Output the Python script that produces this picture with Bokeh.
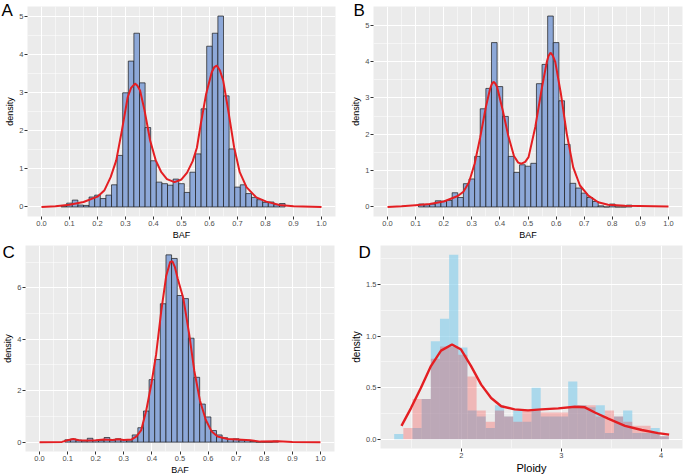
from bokeh.plotting import figure
from bokeh.models import FixedTicker, Title, Range1d, CustomJSTickFormatter
from bokeh.layouts import column, row
from bokeh.embed import file_html
from bokeh.resources import INLINE

FONT = "Liberation Sans"

# ---------------- Panel A data ----------------
a_centers = [0.08, 0.10, 0.12, 0.14, 0.16, 0.18, 0.20, 0.22, 0.24, 0.26,
             0.28, 0.30, 0.32, 0.34, 0.36, 0.38, 0.40, 0.42, 0.44, 0.46,
             0.48, 0.50, 0.52, 0.54, 0.56, 0.58, 0.60, 0.62, 0.64, 0.66,
             0.68, 0.70, 0.72, 0.74, 0.76, 0.78, 0.80, 0.82, 0.84, 0.86]
a_density = [0.02, 0.10, 0.18, 0.05, 0.04, 0.26, 0.31, 0.22, 0.31, 0.58,
             1.35, 2.99, 3.82, 4.55, 3.25, 2.08, 1.21, 0.65, 0.61, 0.57,
             0.73, 0.61, 0.38, 0.91, 1.39, 2.57, 4.21, 4.55, 5.00, 2.91,
             1.52, 0.52, 0.58, 0.35, 0.25, 0.19, 0.12, 0.13, 0.06, 0.09]
a_curve_x = [0.00, 0.05, 0.10, 0.15, 0.20, 0.225, 0.247, 0.267, 0.287, 0.308,
             0.320, 0.334, 0.342, 0.352, 0.368, 0.388, 0.408, 0.428, 0.448, 0.475,
             0.500, 0.520, 0.540, 0.555, 0.569, 0.588, 0.608, 0.617, 0.626, 0.637,
             0.649, 0.669, 0.688, 0.708, 0.732, 0.767, 0.803, 0.85, 0.90, 1.00]
a_curve_y = [0.00, 0.02, 0.06, 0.13, 0.27, 0.44, 0.78, 1.22, 2.00, 2.88,
             3.12, 3.23, 3.18, 3.05, 2.53, 1.74, 1.22, 0.91, 0.73, 0.65,
             0.72, 0.90, 1.20, 1.55, 2.18, 2.96, 3.53, 3.66, 3.70, 3.58,
             3.31, 2.44, 1.56, 0.91, 0.52, 0.25, 0.14, 0.05, 0.02, 0.00]

# ---------------- Panel B data ----------------
b_centers = [0.12, 0.14, 0.16, 0.18, 0.20, 0.22, 0.24, 0.26, 0.28, 0.30,
             0.32, 0.34, 0.36, 0.38, 0.40, 0.42, 0.44, 0.46, 0.48, 0.50,
             0.52, 0.54, 0.56, 0.58, 0.60, 0.62, 0.64, 0.66, 0.68, 0.70,
             0.72, 0.74, 0.76, 0.78, 0.80, 0.82, 0.84, 0.86]
b_density = [0.08, 0.06, 0.08, 0.17, 0.16, 0.18, 0.39, 0.26, 0.64, 0.77,
             1.39, 2.70, 3.26, 4.52, 3.31, 2.49, 1.39, 0.95, 1.16, 1.12,
             1.20, 3.39, 3.92, 5.25, 4.52, 2.92, 1.72, 0.65, 0.52, 0.38,
             0.26, 0.15, 0.03, 0.00, 0.08, 0.00, 0.00, 0.05]
b_curve_x = [0.00, 0.05, 0.10, 0.15, 0.20, 0.25, 0.27, 0.29, 0.31, 0.33,
             0.35, 0.365, 0.371, 0.377, 0.383, 0.39, 0.41, 0.43, 0.45, 0.465,
             0.477, 0.49, 0.502, 0.526, 0.55, 0.567, 0.573, 0.580, 0.588, 0.597,
             0.617, 0.638, 0.661, 0.685, 0.715, 0.75, 0.785, 0.845, 1.00]
b_curve_y = [0.00, 0.02, 0.05, 0.08, 0.15, 0.30, 0.42, 0.68, 1.19, 1.92,
             2.75, 3.25, 3.38, 3.44, 3.40, 3.30, 2.66, 1.95, 1.40, 1.22,
             1.19, 1.24, 1.37, 2.20, 3.30, 3.99, 4.15, 4.24, 4.17, 3.99,
             3.12, 2.01, 1.09, 0.59, 0.31, 0.13, 0.06, 0.03, 0.01]

# ---------------- Panel C data ----------------
c_centers = [0.10, 0.12, 0.14, 0.16, 0.18, 0.20, 0.22, 0.24, 0.26, 0.28,
             0.30, 0.32, 0.34, 0.36, 0.38, 0.40, 0.42, 0.44, 0.46, 0.48,
             0.50, 0.52, 0.54, 0.56, 0.58, 0.60, 0.62, 0.64, 0.66, 0.68,
             0.70, 0.72, 0.74, 0.76, 0.78, 0.80, 0.82, 0.84]
c_density = [0.09, 0.12, 0.08, 0.05, 0.15, 0.06, 0.06, 0.18, 0.08, 0.13,
             0.10, 0.05, 0.28, 0.56, 1.21, 2.43, 3.21, 5.38, 7.28, 7.14,
             5.70, 5.58, 4.04, 2.52, 1.48, 0.98, 0.45, 0.28, 0.17, 0.11,
             0.13, 0.08, 0.07, 0.03, 0.00, 0.00, 0.00, 0.04]
c_curve_x = [0.00, 0.08, 0.10, 0.12, 0.14, 0.17, 0.20, 0.23, 0.26, 0.28,
             0.30, 0.327, 0.345, 0.362, 0.38, 0.398, 0.415, 0.433, 0.451, 0.465,
             0.473, 0.482, 0.492, 0.512, 0.533, 0.551, 0.571, 0.592, 0.613, 0.634,
             0.67, 0.72, 0.75, 0.786, 0.85, 0.90, 1.00]
c_curve_y = [0.00, 0.01, 0.07, 0.12, 0.07, 0.06, 0.07, 0.10, 0.08, 0.11,
             0.08, 0.10, 0.22, 0.47, 1.24, 2.26, 3.41, 5.07, 6.47, 7.00,
             7.03, 6.80, 6.35, 5.58, 4.18, 2.77, 1.62, 0.86, 0.41, 0.22,
             0.12, 0.09, 0.07, 0.02, 0.03, 0.01, 0.00]

# ---------------- Panel D data ----------------
d_bin_start = 1.327
d_bin_width = 0.0917
d_blue = [0.05, 0.00, 0.11, 0.39, 0.95, 1.17, 1.79, 0.89, 0.28, 0.22,
          0.11, 0.33, 0.22, 0.28, 0.17, 0.50, 0.22, 0.22, 0.22, 0.56,
          0.33, 0.31, 0.33, 0.06, 0.22, 0.28, 0.06, 0.06, 0.11, 0.03]
d_pink = [0.00, 0.11, 0.39, 0.39, 0.78, 0.90, 0.90, 0.82, 0.61, 0.28,
          0.17, 0.28, 0.22, 0.17, 0.28, 0.28, 0.26, 0.26, 0.26, 0.31,
          0.33, 0.33, 0.22, 0.28, 0.22, 0.17, 0.13, 0.13, 0.06, 0.03]
d_curve_x = [1.40, 1.494, 1.595, 1.695, 1.796, 1.906, 1.997, 2.097, 2.198, 2.298,
             2.399, 2.533, 2.667, 2.80, 2.97, 3.136, 3.236, 3.337, 3.47, 3.638,
             3.806, 3.97, 4.08]
d_curve_y = [0.13, 0.30, 0.50, 0.71, 0.86, 0.92, 0.87, 0.71, 0.53, 0.40,
             0.32, 0.29, 0.28, 0.29, 0.30, 0.315, 0.31, 0.26, 0.20, 0.13,
             0.09, 0.06, 0.045]

baf_ticks = [0.0, 0.1, 0.2, 0.3, 0.4, 0.5, 0.6, 0.7, 0.8, 0.9, 1.0]
baf_minor = [0.05, 0.15, 0.25, 0.35, 0.45, 0.55, 0.65, 0.75, 0.85, 0.95]

BAR_FILL = "#8DA8D8"
RED = "#E41E22"


def style(p, xt, xm, xdig, yt, ym, ydig, xlabel, ylabel, tick_fs, lab_fs):
    p.background_fill_color = "#EBEBEB"
    p.border_fill_color = "white"
    p.outline_line_color = None
    xtk = FixedTicker(ticks=xt, minor_ticks=xm)
    ytk = FixedTicker(ticks=yt, minor_ticks=ym)
    p.xaxis.ticker = xtk
    p.yaxis.ticker = ytk
    p.xgrid.ticker = xtk
    p.ygrid.ticker = ytk
    p.grid.grid_line_color = "white"
    p.grid.grid_line_width = 1.1
    p.grid.minor_grid_line_color = "white"
    p.grid.minor_grid_line_width = 0.5
    p.xaxis.formatter = CustomJSTickFormatter(code="return tick.toFixed(%d)" % xdig)
    p.yaxis.formatter = CustomJSTickFormatter(code="return tick.toFixed(%d)" % ydig)
    for ax in (p.xaxis[0], p.yaxis[0]):
        ax.axis_line_color = None
        ax.major_tick_out = 3
        ax.major_tick_in = 0
        ax.minor_tick_out = 0
        ax.minor_tick_in = 0
        ax.major_tick_line_color = "#333333"
        ax.major_tick_line_width = 1
        ax.major_label_text_font = FONT
        ax.major_label_text_font_size = tick_fs
        ax.major_label_text_color = "#4D4D4D"
        ax.major_label_standoff = 1
        ax.axis_label_standoff = 1
        ax.axis_label_text_font = FONT
        ax.axis_label_text_font_style = "normal"
        ax.axis_label_text_font_size = lab_fs
        ax.axis_label_text_color = "black"
    p.xaxis.axis_label = xlabel
    p.yaxis.axis_label = ylabel


def letter(p, txt, offset, standoff):
    p.title = Title(text=txt, align="left", offset=offset, standoff=standoff,
                    vertical_align="bottom", text_font=FONT, text_font_size="17px",
                    text_font_style="normal", text_color="black")


def make_hist(centers, dens, cx, cy, yr, yt, ym, fw, fh, ml, mr, mt, mb):
    p = figure(frame_width=fw, frame_height=fh, min_border_left=ml, min_border_right=mr,
               min_border_top=mt, min_border_bottom=mb,
               x_range=Range1d(-0.05, 1.05), y_range=Range1d(*yr),
               output_backend="svg", toolbar_location=None)
    p.vbar(x=centers, width=0.02, top=dens, bottom=0, fill_color=BAR_FILL,
           line_color="#1A1A1A", line_width=0.7)
    p.line(cx, cy, line_color=RED, line_width=2)
    style(p, baf_ticks, baf_minor, 1, yt, ym, 0, "BAF", "density", "7.5px", "9px")
    return p


pA = make_hist(a_centers, a_density, a_curve_x, a_curve_y, (-0.25, 5.25),
               [0, 1, 2, 3, 4, 5], [0.5, 1.5, 2.5, 3.5, 4.5],
               308, 210, 27, 7, 6, 25)
letter(pA, "A", -26, -27)

pB = make_hist(b_centers, b_density, b_curve_x, b_curve_y, (-0.2625, 5.5125),
               [0, 1, 2, 3, 4, 5], [0.5, 1.5, 2.5, 3.5, 4.5],
               309, 210, 31, 3, 6, 25)
letter(pB, "B", -20, -27)

pC = make_hist(c_centers, c_density, c_curve_x, c_curve_y, (-0.364, 7.644),
               [0, 2, 4, 6], [1, 3, 5, 7],
               309, 206, 24, 9, 3, 26)
letter(pC, "C", -23, -33)

# Panel D
pD = figure(frame_width=302, frame_height=203, min_border_left=37, min_border_right=4,
            min_border_top=3, min_border_bottom=29,
            x_range=Range1d(1.19, 4.214), y_range=Range1d(-0.0895, 1.8795),
            output_backend="svg", toolbar_location=None)
d_left = [d_bin_start + i * d_bin_width for i in range(len(d_blue))]
d_right = [l + d_bin_width for l in d_left]
pD.quad(left=d_left, right=d_right, bottom=0, top=d_blue, fill_color="#87CEEB",
        fill_alpha=0.65, line_color=None)
pD.quad(left=d_left, right=d_right, bottom=0, top=d_pink, fill_color="#FF0000",
        fill_alpha=0.22, line_color=None)
pD.line(d_curve_x, d_curve_y, line_color=RED, line_width=2.4)
style(pD, [2, 3, 4], [1.5, 2.5, 3.5], 0, [0.0, 0.5, 1.0, 1.5], [0.25, 0.75, 1.25, 1.75], 1,
      "Ploidy", "density", "7.5px", "11px")
pD.yaxis.axis_label_text_font_size = "10px"
letter(pD, "D", -22, -33)

layout = column(row(pA, pB), row(pC, pD))
open("out.html", "w").write(file_html(layout, INLINE))
